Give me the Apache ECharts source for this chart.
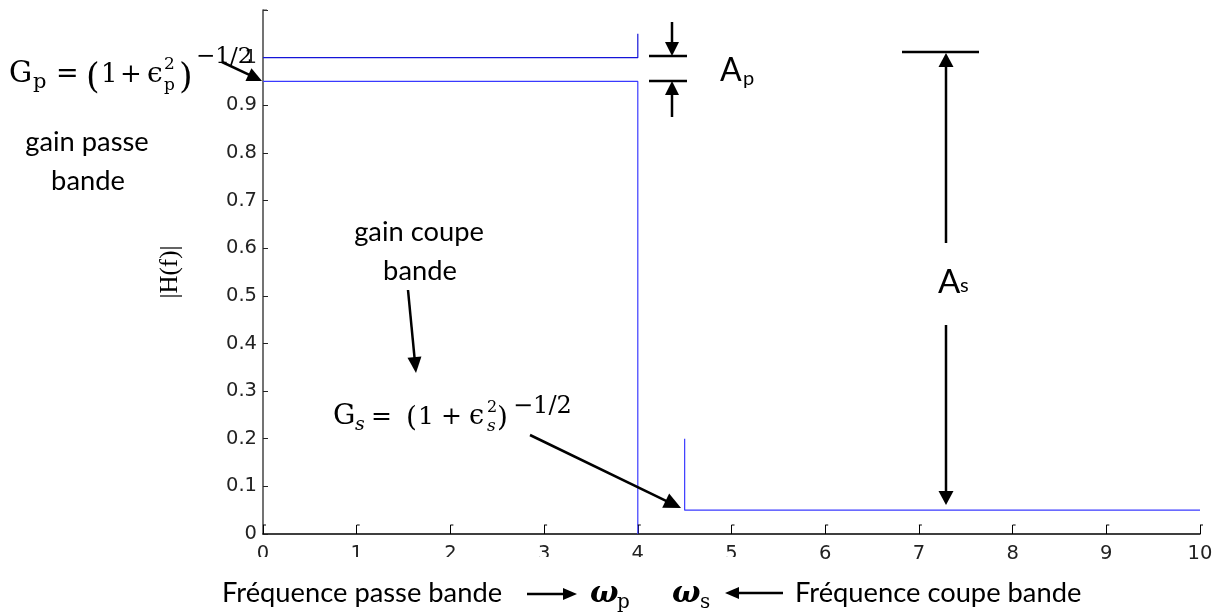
<!DOCTYPE html>
<html>
<head>
<meta charset="utf-8">
<title>|H(f)| – gabarit de filtre passe-bas</title>
<script src="https://cdn.jsdelivr.net/npm/echarts@6/dist/echarts.min.js"></script>
<style>
  html, body { margin: 0; padding: 0; background: #fff; }
  #chart { width: 1220px; height: 613px; }
</style>
</head>
<body>
<div id="chart"></div>
<script>
// ---- data -------------------------------------------------------------
const xTickLabels = ['0', '1', '2', '3', '4', '5', '6', '7', '8', '9', '10'];
const yTickLabels = ['0', '0.1', '0.2', '0.3', '0.4', '0.5', '0.6', '0.7', '0.8', '0.9', '1'];

// passband limits: nominal gain 1 and minimum gain Gp, edge at ωp = 4
const passbandUpper = [[0, 1], [4, 1], [4, 1.05]];
const passbandLower = [[0, 0.95], [4, 0.95], [4, 0]];
// stopband limit Gs, starting at ωs = 4.5
const stopbandLimit = [[4.5, 0.2], [4.5, 0.05], [10, 0.05]];

// ---- drawing helpers ------------------------------------------------------
const SANS = 'Lato, sans-serif';
const SERIF = 'DejaVu Serif, serif';
const TXT = 27.3;

// text placed by its left edge (or centre) and baseline
function txt(x, base, text, size, opts) {
  opts = opts || {};
  return {
    type: 'text',
    x: x,
    y: base - 0.3 * size,
    z: 100,
    silent: true,
    style: {
      text: text,
      fontSize: size,
      fontFamily: opts.family || SANS,
      fontWeight: opts.weight || 'normal',
      fontStyle: opts.italic ? 'italic' : 'normal',
      fill: '#000',
      align: opts.align || 'left',
      verticalAlign: 'middle'
    }
  };
}

function seg(x1, y1, x2, y2, w, color) {
  return {
    type: 'line', z: 100, silent: true,
    shape: { x1: x1, y1: y1, x2: x2, y2: y2 },
    style: { stroke: color || '#000', lineWidth: w || 2.5 }
  };
}

// straight arrow with a filled triangular head at (x2, y2)
function arrow(x1, y1, x2, y2, head, half, w) {
  head = head || 15; half = half || 7; w = w || 2.5;
  const dx = x2 - x1, dy = y2 - y1, len = Math.hypot(dx, dy);
  const ux = dx / len, uy = dy / len;
  const bx = x2 - ux * head, by = y2 - uy * head;
  return [
    seg(x1, y1, bx + ux, by + uy, w),
    {
      type: 'polygon', z: 100, silent: true,
      shape: { points: [[x2, y2], [bx - uy * half, by + ux * half], [bx + uy * half, by - ux * half]] },
      style: { fill: '#000' }
    }
  ];
}

const annotations = [].concat(
  // Gp = (1 + εp²)^(-1/2)
  [
    txt(9, 83, 'G', 29, { family: SERIF }),
    txt(33, 89, 'p', 21, { family: SERIF }),
    txt(56, 83, '=', 27, { family: SERIF }),
    txt(86, 89, '(', 35, { family: SERIF }),
    txt(101, 83, '1', 26, { family: SERIF }),
    txt(120, 83, '+', 26, { family: SERIF }),
    txt(147, 83, '\u03F5', 28, { family: SERIF }),
    txt(164, 70, '2', 17, { family: SERIF }),
    txt(164, 91, 'p', 17, { family: SERIF }),
    txt(179, 89, ')', 35, { family: SERIF }),
    txt(196, 64, '\u22121/2', 23, { family: SERIF })
  ],
  arrow(222, 62, 262, 81, 15, 7),
  [
    txt(87, 150, 'gain passe', TXT, { align: 'center' }),
    txt(88, 189, 'bande', TXT, { align: 'center' }),
    txt(419, 240, 'gain coupe', TXT, { align: 'center' }),
    txt(420, 279, 'bande', TXT, { align: 'center' })
  ],
  arrow(408, 290, 416, 373, 16, 7),
  // Gs = (1 + εs²)^(-1/2)
  [
    txt(333, 425, 'G', 28, { family: SERIF }),
    txt(355, 431, 's', 19, { family: SERIF, italic: true }),
    txt(371, 425, '=', 25, { family: SERIF }),
    txt(406, 427, '(', 28, { family: SERIF }),
    txt(418, 425, '1', 25, { family: SERIF }),
    txt(441, 425, '+', 25, { family: SERIF }),
    txt(469, 425, '\u03F5', 27, { family: SERIF }),
    txt(487, 413, '2', 16, { family: SERIF }),
    txt(487, 432, 's', 17, { family: SERIF, italic: true }),
    txt(497, 427, ')', 28, { family: SERIF }),
    txt(513, 414, '\u22121/2', 24, { family: SERIF })
  ],
  arrow(530, 435, 681, 508, 17, 8),
  // Ap: passband ripple
  [
    seg(649, 56, 687, 56),
    seg(649, 81, 687, 81),
    txt(720, 80, 'A', 32),
    txt(743, 85, 'p', 20)
  ],
  arrow(672, 22, 672, 56, 14, 7),
  arrow(672, 117, 672, 81, 14, 7),
  // As: stopband attenuation
  [
    seg(902, 52, 979, 52),
    txt(938, 292, 'A', 33),
    txt(960, 292, 's', 20)
  ],
  arrow(946, 243, 946, 53, 14, 7.5),
  arrow(946, 325, 946, 505, 14, 7.5),
  // frequency captions under the axis
  [
    txt(222, 601, 'Fréquence passe bande', TXT),
    txt(590, 603, '\u03C9', 30, { family: SERIF, weight: 'bold', italic: true }),
    txt(617, 609, 'p', 20, { family: SERIF }),
    txt(672, 603, '\u03C9', 30, { family: SERIF, weight: 'bold', italic: true }),
    txt(700, 609, 's', 20, { family: SERIF }),
    txt(795, 601, 'Fréquence coupe bande', TXT)
  ],
  arrow(527, 594, 577, 594, 14, 6),
  arrow(783, 593, 725, 593, 14, 6),
  // lower edge of the first tick labels is cut off
  [{
    type: 'rect', z: 90, silent: true,
    shape: { x: 245, y: 557, width: 500, height: 10 },
    style: { fill: '#fff' }
  }]
);

// ---- chart ------------------------------------------------------------------
const chart = echarts.init(document.getElementById('chart'), null, { renderer: 'canvas' });

const lineSeries = (name, data, color) => ({
  name: name,
  type: 'line',
  data: data,
  showSymbol: false,
  symbol: 'none',
  silent: true,
  animation: false,
  lineStyle: { color: color, width: 1.2 },
  z: 3
});

chart.setOption({
  animation: false,
  backgroundColor: '#fff',
  grid: { left: 263, right: 20, top: 10, bottom: 79, containLabel: false },
  xAxis: {
    type: 'value',
    min: 0, max: 10, interval: 1,
    axisLine: { show: true, onZero: false, lineStyle: { color: '#000', width: 1.5 } },
    axisTick: { show: true, inside: true, length: 9, lineStyle: { color: '#000', width: 1 } },
    axisLabel: {
      show: true, margin: 10, color: '#222',
      fontFamily: 'DejaVu Sans', fontSize: 19.5,
      showMinLabel: true, showMaxLabel: true,
      formatter: v => xTickLabels[Math.round(v)] ?? ''
    },
    splitLine: { show: false }
  },
  yAxis: {
    type: 'value',
    min: 0, max: 1.1, interval: 0.1,
    name: '|H(f)|',
    nameLocation: 'middle',
    nameGap: 80,
    nameRotate: 90,
    nameTextStyle: { fontFamily: 'Liberation Serif', fontSize: 25, color: '#000' },
    axisLine: { show: true, onZero: false, lineStyle: { color: '#444', width: 1.5 } },
    axisTick: { show: true, inside: true, length: 5, lineStyle: { color: '#222', width: 1 } },
    axisLabel: {
      show: true, margin: 6, color: '#222',
      fontFamily: 'DejaVu Sans', fontSize: 19.5,
      showMaxLabel: true,
      formatter: v => yTickLabels[Math.round(v * 10)] ?? ''
    },
    splitLine: { show: false }
  },
  series: [
    lineSeries('gain nominal', passbandUpper, '#1414d8'),
    lineSeries('Gp', passbandLower, '#3a3aff'),
    lineSeries('Gs', stopbandLimit, '#3a3aff')
  ],
  graphic: annotations
});

// small hooks on top of the x ticks and at the top of the y axis
const tickHooks = [];
xTickLabels.forEach((_, i) => {
  const p = chart.convertToPixel({ xAxisIndex: 0, yAxisIndex: 0 }, [i, 0]);
  tickHooks.push(seg(p[0], p[1] - 9, p[0] + 3, p[1] - 9, 1, '#000'));
});
const axisTopPx = chart.convertToPixel({ xAxisIndex: 0, yAxisIndex: 0 }, [0, 1.1]);
tickHooks.push(seg(axisTopPx[0], axisTopPx[1], axisTopPx[0] + 4, axisTopPx[1], 1, '#444'));
chart.setOption({ graphic: annotations.concat(tickHooks) });
</script>
</body>
</html>
